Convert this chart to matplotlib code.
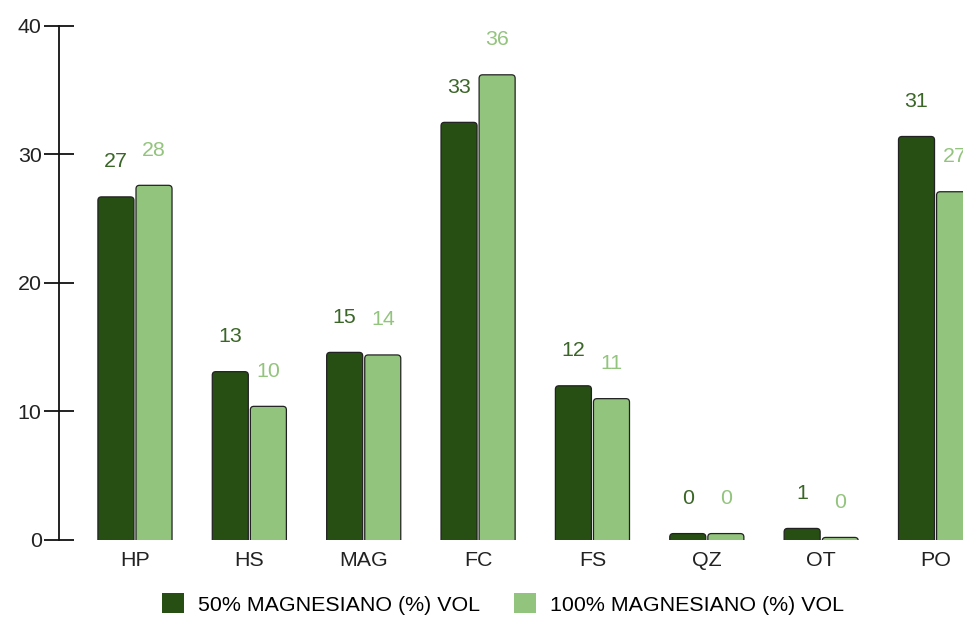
import matplotlib
matplotlib.use("Agg")
import matplotlib.pyplot as plt
from matplotlib.patches import FancyBboxPatch
import numpy as np

# -----------------------------
# DATA
# -----------------------------
categories = ["HP", "HS", "MAG", "FC", "FS", "QZ", "OT", "PO"]
vals_50 = [26.7, 13.1, 14.6, 32.5, 12.0, 0.5, 0.9, 31.4]
vals_100 = [27.6, 10.4, 14.4, 36.2, 11.0, 0.5, 0.2, 27.1]
labels_50 = ["27", "13", "15", "33", "12", "0", "1", "31"]
labels_100 = ["28", "10", "14", "36", "11", "0", "0", "27"]
series_names = ["50% MAGNESIANO (%) VOL", "100% MAGNESIANO (%) VOL"]

DARK = "#274e13"
LIGHT = "#93c47d"
DARK_TXT = "#3a6627"
LIGHT_TXT = "#93c47d"
FS = 15.4

plt.rcParams["font.family"] = ["Liberation Sans", "DejaVu Sans"]

fig = plt.figure(figsize=(9.63, 6.17), dpi=100)
ax = fig.add_axes([0.0613, 0.1248, 0.9387, 0.8331])

x = np.arange(len(categories))
w = 0.315
gap = 0.009

bars_a = ax.bar(x - w / 2 - gap, vals_50, w, color=DARK, label=series_names[0])
bars_b = ax.bar(x + w / 2 + gap, vals_100, w, color=LIGHT, label=series_names[1])

# swap the square bars for rounded ones (bottom extended below 0 so it stays square)
x_px = 114.4
y_px = 12.85
r = 3.5 / x_px
aspect = (3.5 / y_px) / r
for bars in (bars_a, bars_b):
    for b in bars:
        b.set_visible(False)
        p = FancyBboxPatch((b.get_x(), -2), b.get_width(), b.get_height() + 2,
                           boxstyle=f"round,pad=0,rounding_size={r}",
                           mutation_aspect=aspect,
                           facecolor=b.get_facecolor(), edgecolor="#222222",
                           linewidth=0.9)
        ax.add_patch(p)

off = 35 / y_px
for i in range(len(categories)):
    ax.text(x[i] - w / 2 - gap, vals_50[i] + off, labels_50[i], ha="center", va="center",
            fontsize=FS, color=DARK_TXT)
    ax.text(x[i] + w / 2 + gap, vals_100[i] + off, labels_100[i], ha="center", va="center",
            fontsize=FS, color=LIGHT_TXT)

ax.set_ylim(0, 40)
ax.set_xlim(-0.664, 7.24)
ax.set_yticks([0, 10, 20, 30, 40])
ax.set_xticks(x)
ax.set_xticklabels(categories)

for s in ["top", "right", "bottom"]:
    ax.spines[s].set_visible(False)
ax.spines["left"].set_color("#111111")
ax.spines["left"].set_linewidth(1.3)
ax.tick_params(axis="y", direction="inout", length=21, width=1.3, color="#111111",
               labelsize=FS, labelcolor="#222222", pad=2)
ax.tick_params(axis="x", length=0, labelsize=FS, labelcolor="#222222", pad=8)

leg = fig.legend(handles=[bars_a, bars_b], labels=series_names, loc="center",
                 bbox_to_anchor=(0.522, 0.021), ncol=2, frameon=False, fontsize=FS,
                 handlelength=1.03, handleheight=1.03, handletextpad=0.65, columnspacing=1.6)
for h in leg.legend_handles:
    h.set_visible(True)
    h.set_edgecolor("none")

fig.savefig("out.png", dpi=100)
